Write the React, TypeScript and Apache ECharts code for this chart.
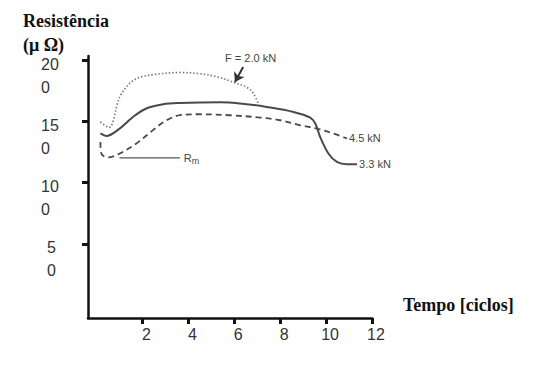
import { useEffect, useRef } from "react";
import * as echarts from "echarts";

const xTickValues = [2, 4, 6, 8, 10, 12];
const yTickValues = [50, 100, 150, 200];

const seriesF20: number[][] = [
  [0.17, 149.6], [0.54, 145], [1.01, 170], [1.44, 181], [1.88, 186], [2.61, 188.6],
  [3.63, 190], [4.5, 189], [5.37, 186], [5.96, 182], [6.54, 178], [6.83, 173], [7.05, 164.7],
];
const seriesF33: number[][] = [
  [0.17, 140.2], [0.43, 138.2], [1.01, 144.2], [1.59, 153.7], [2.17, 160.6], [2.9, 164.1],
  [3.63, 165.1], [5.38, 165.7], [6.54, 164.1], [7.41, 161.9], [8.58, 157.8], [9.31, 153.2],
  [9.53, 148.3], [9.74, 137.4], [10.1, 123.8], [10.47, 117], [10.91, 115.1], [11.35, 115.1],
];
const seriesF45: number[][] = [
  [0.17, 133.3], [0.21, 123.8], [0.5, 120.6], [1.01, 123.8], [1.74, 132], [2.46, 142.9],
  [3.05, 151], [3.63, 155.1], [4.5, 155.9], [5.81, 155.1], [7.12, 153.2], [8.0, 151],
  [8.87, 146.9], [9.6, 144.2], [10.32, 140.2], [10.91, 136.1],
];
const seriesRm: number[][] = [[1.0, 120.2], [3.63, 120.2]];

const labelF20 = "F = 2.0 kN";
const labelF33 = "3.3 kN";
const labelF45 = "4.5 kN";
const labelF20Pos = [5.6, 201.5];
const arrowF20 = [[6.39, 194.5], [6.03, 182.3]];

const LINE = "#4a4a4a";

export default function App() {
  const ref = useRef<HTMLDivElement>(null);
  useEffect(() => {
    document.body.style.margin = "0";
    const chart = echarts.init(ref.current!, null, { renderer: "svg" });
    const tickFont = { fontFamily: "Liberation Sans", fontSize: 16, color: "#333" };
    chart.setOption({
      animation: false,
      title: {
        text: "Resistência\n(μ Ω)",
        left: 23,
        top: 9,
        padding: 0,
        textStyle: { fontFamily: "Liberation Serif", fontWeight: "bold", fontSize: 18, lineHeight: 24, color: "#111" },
      },
      graphic: [
        {
          type: "text",
          left: 403,
          top: 296,
          style: { text: "Tempo [ciclos]", font: "bold 18px 'Liberation Serif'", fill: "#111" },
        },
      ],
      grid: { left: 88, right: 173, top: 56, bottom: 51 },
      xAxis: {
        type: "value",
        min: -0.37,
        max: 12,
        splitLine: { show: false },
        axisLine: { show: true, onZero: false, lineStyle: { color: "#111", width: 2.5 } },
        axisTick: { show: true, customValues: xTickValues, length: 6, lineStyle: { color: "#111", width: 3 } },
        axisLabel: { customValues: xTickValues, margin: 8, padding: [0, 0, 0, 8], ...tickFont },
      },
      yAxis: {
        type: "value",
        min: -10.6,
        max: 203.5,
        splitLine: { show: false },
        axisLine: { show: true, onZero: false, lineStyle: { color: "#111", width: 2.5 } },
        axisTick: { show: true, customValues: yTickValues, length: 6, lineStyle: { color: "#111", width: 3 } },
        axisLabel: {
          customValues: yTickValues,
          margin: 47,
          align: "left",
          verticalAlign: "top",
          formatter: (v: number) => {
            const s = String(v);
            const head = s.slice(0, -1);
            const tail = s.slice(-1);
            const k = head.length === 1 ? "n" : "w";
            return `{${k}a|${head}}\n{${k}b|${tail}}`;
          },
          rich: {
            wa: { ...tickFont, lineHeight: 8 },
            wb: { ...tickFont, lineHeight: 38 },
            na: { ...tickFont, lineHeight: 8, padding: [0, 0, 0, 6] },
            nb: { ...tickFont, lineHeight: 38, padding: [0, 0, 0, 6] },
          },
        },
      },
      series: [
        {
          type: "line",
          data: seriesF20,
          smooth: 0.35,
          symbol: "none",
          lineStyle: { color: "#777", width: 1.6, type: [1.5, 2] },
          markPoint: {
            symbol: "circle",
            symbolSize: 0,
            data: [{ coord: labelF20Pos }],
            label: {
              show: true,
              position: "right",
              distance: 0,
              formatter: labelF20,
              fontFamily: "Liberation Sans",
              fontSize: 11,
              color: "#444",
            },
          },
          markLine: {
            silent: true,
            symbol: ["none", "arrow"],
            symbolSize: 9,
            label: { show: false },
            lineStyle: { color: "#333", width: 2, type: "solid" },
            data: [[{ coord: arrowF20[0] }, { coord: arrowF20[1] }]],
          },
        },
        {
          type: "line",
          data: seriesF33,
          smooth: 0.35,
          symbol: "none",
          lineStyle: { color: LINE, width: 2 },
          endLabel: { show: true, formatter: labelF33, distance: 2, fontFamily: "Liberation Sans", fontSize: 11, color: "#444" },
        },
        {
          type: "line",
          data: seriesF45,
          smooth: 0.35,
          symbol: "none",
          lineStyle: { color: LINE, width: 1.8, type: [6, 4] },
          endLabel: { show: true, formatter: labelF45, distance: 2, fontFamily: "Liberation Sans", fontSize: 11, color: "#444" },
        },
        {
          type: "line",
          data: seriesRm,
          symbol: "none",
          lineStyle: { color: "#555", width: 1.3 },
          endLabel: {
            show: true,
            distance: 4,
            formatter: "{r|R}{m|m}",
            rich: {
              r: { fontFamily: "Liberation Sans", fontSize: 11, color: "#444" },
              m: { fontFamily: "Liberation Sans", fontSize: 9, color: "#444", padding: [6, 0, 0, 0] },
            },
          },
        },
      ],
    });
    return () => chart.dispose();
  }, []);
  return <div ref={ref} style={{ width: 545, height: 369 }} />;
}
